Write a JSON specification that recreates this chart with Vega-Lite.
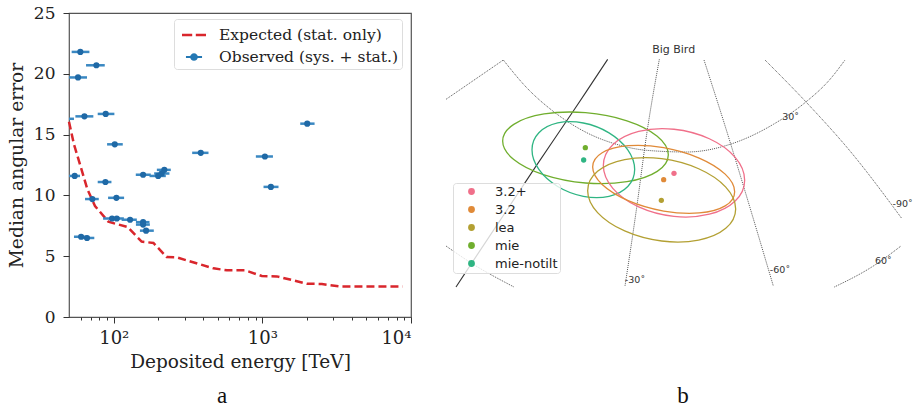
{
"$schema":"https://vega.github.io/schema/vega-lite/v6.json",
"padding":{"left":6,"top":3,"right":0,"bottom":0},
"background":"white",
"spacing":29,
"bounds":"flush",
"resolve":{"scale":{"color":"independent","shape":"independent"},"legend":{"color":"independent","shape":"independent"}},
"config":{"font":"DejaVu Serif"},
"datasets":{
"obs":[
{"e":59.6,"lo":52.1,"hi":68.6,"err":21.8},{"e":76.4,"lo":65.1,"hi":87,"err":20.7},{"e":57.5,"lo":50,"hi":66.1,"err":19.7},{"e":63.5,"lo":55.2,"hi":72.9,"err":16.5},{"e":88.3,"lo":78,"hi":101,"err":16.7},{"e":47,"lo":41,"hi":54,"err":16.3},{"e":101.6,"lo":90.2,"hi":115,"err":14.2},{"e":54.6,"lo":49,"hi":59.3,"err":11.6},{"e":87.9,"lo":78,"hi":96.5,"err":11.1},{"e":71.8,"lo":64.1,"hi":79.3,"err":9.7},{"e":104.2,"lo":91.6,"hi":117.4,"err":9.8},{"e":97.4,"lo":84.8,"hi":110,"err":8.1},{"e":104.8,"lo":94.5,"hi":117,"err":8.1},{"e":128.8,"lo":113,"hi":143,"err":8},{"e":157.6,"lo":141,"hi":174,"err":7.8},{"e":157.6,"lo":141,"hi":175,"err":7.6},{"e":165,"lo":150,"hi":186,"err":7.1},{"e":60.3,"lo":54,"hi":66.5,"err":6.6},{"e":66.1,"lo":60,"hi":74,"err":6.5},{"e":157.6,"lo":140.7,"hi":177.5,"err":11.7},{"e":199,"lo":174,"hi":224,"err":11.6},{"e":210,"lo":187,"hi":237,"err":11.8},{"e":219,"lo":195,"hi":242,"err":12.1},{"e":385,"lo":337,"hi":434,"err":13.5},{"e":1040,"lo":904,"hi":1178,"err":13.2},{"e":1141,"lo":1018,"hi":1284,"err":10.7},{"e":2004,"lo":1798,"hi":2245,"err":15.9}],
"exp":[
{"e":50,"err":16.06},{"e":54,"err":14.2},{"e":59.3,"err":12.55},{"e":66.5,"err":10.5},{"e":74.8,"err":9.13},{"e":92,"err":7.84},{"e":102,"err":7.68},{"e":124,"err":7.4},{"e":154,"err":6.2},{"e":185,"err":6.09},{"e":227,"err":4.93},{"e":266,"err":4.9},{"e":381,"err":4.33},{"e":469,"err":4},{"e":577,"err":3.84},{"e":766,"err":3.84},{"e":992,"err":3.37},{"e":1252,"err":3.34},{"e":1994,"err":2.74},{"e":2516,"err":2.71},{"e":3430,"err":2.5},{"e":8790,"err":2.5}],
"ell":[
{"s":"mie","o":0,"x":685,"y":370.9},{"s":"mie","o":1,"x":651.7,"y":421},{"s":"mie","o":2,"x":560.8,"y":452.1},{"s":"mie","o":3,"x":436.5,"y":456},{"s":"mie","o":4,"x":312.3,"y":431.7},{"s":"mie","o":5,"x":221.3,"y":385.6},{"s":"mie","o":6,"x":188,"y":330.1},{"s":"mie","o":7,"x":221.3,"y":280},{"s":"mie","o":8,"x":312.3,"y":248.9},{"s":"mie","o":9,"x":436.5,"y":245},{"s":"mie","o":10,"x":560.8,"y":269.3},{"s":"mie","o":11,"x":651.7,"y":315.4},
{"s":"mie-notilt","o":0,"x":584,"y":415.6},{"s":"mie-notilt","o":1,"x":563.4,"y":466.6},{"s":"mie-notilt","o":2,"x":507,"y":496.1},{"s":"mie-notilt","o":3,"x":430,"y":496},{"s":"mie-notilt","o":4,"x":353,"y":466.5},{"s":"mie-notilt","o":5,"x":296.6,"y":415.4},{"s":"mie-notilt","o":6,"x":276,"y":356.4},{"s":"mie-notilt","o":7,"x":296.6,"y":305.4},{"s":"mie-notilt","o":8,"x":353,"y":275.9},{"s":"mie-notilt","o":9,"x":430,"y":276},{"s":"mie-notilt","o":10,"x":507,"y":305.5},{"s":"mie-notilt","o":11,"x":563.4,"y":356.6},
{"s":"3.2+","o":0,"x":914,"y":447.4},{"s":"3.2+","o":1,"x":885.6,"y":509.9},{"s":"3.2+","o":2,"x":808,"y":549.7},{"s":"3.2+","o":3,"x":702,"y":556.2},{"s":"3.2+","o":4,"x":596,"y":527.7},{"s":"3.2+","o":5,"x":518.4,"y":471.9},{"s":"3.2+","o":6,"x":490,"y":403.6},{"s":"3.2+","o":7,"x":518.4,"y":341.1},{"s":"3.2+","o":8,"x":596,"y":301.3},{"s":"3.2+","o":9,"x":702,"y":294.8},{"s":"3.2+","o":10,"x":808,"y":323.3},{"s":"3.2+","o":11,"x":885.6,"y":379.1},
{"s":"3.2","o":0,"x":884,"y":481.9},{"s":"3.2","o":1,"x":855.5,"y":524.6},{"s":"3.2","o":2,"x":777.5,"y":545.9},{"s":"3.2","o":3,"x":671,"y":540.1},{"s":"3.2","o":4,"x":564.5,"y":508.9},{"s":"3.2","o":5,"x":486.5,"y":460.6},{"s":"3.2","o":6,"x":458,"y":408.1},{"s":"3.2","o":7,"x":486.5,"y":365.4},{"s":"3.2","o":8,"x":564.5,"y":344.1},{"s":"3.2","o":9,"x":671,"y":349.9},{"s":"3.2","o":10,"x":777.5,"y":381.1},{"s":"3.2","o":11,"x":855.5,"y":429.4},
{"s":"lea","o":0,"x":887,"y":533.8},{"s":"lea","o":1,"x":857.3,"y":591.9},{"s":"lea","o":2,"x":776,"y":627.2},{"s":"lea","o":3,"x":665,"y":630},{"s":"lea","o":4,"x":554,"y":599.8},{"s":"lea","o":5,"x":472.7,"y":544.7},{"s":"lea","o":6,"x":443,"y":479.2},{"s":"lea","o":7,"x":472.7,"y":421.1},{"s":"lea","o":8,"x":554,"y":385.8},{"s":"lea","o":9,"x":665,"y":383},{"s":"lea","o":10,"x":776,"y":413.2},{"s":"lea","o":11,"x":857.3,"y":468.3}],
"centers":[{"s":"3.2+","x":702,"y":427},{"s":"3.2","x":671,"y":446},{"s":"lea","x":664,"y":508},{"s":"mie","x":436,"y":350},{"s":"mie-notilt","x":431,"y":387}],
"grid":[
{"g":"par30","o":0,"x":190,"y":87},{"g":"par30","o":1,"x":260,"y":170},{"g":"par30","o":2,"x":345,"y":245},{"g":"par30","o":3,"x":440,"y":305},{"g":"par30","o":4,"x":530,"y":340},{"g":"par30","o":5,"x":620,"y":358},{"g":"par30","o":6,"x":740,"y":363},{"g":"par30","o":7,"x":870,"y":340},{"g":"par30","o":8,"x":1000,"y":280},{"g":"par30","o":9,"x":1095,"y":215},{"g":"par30","o":10,"x":1170,"y":145},{"g":"par30","o":11,"x":1215,"y":87},
{"g":"tl","o":0,"x":18,"y":205},{"g":"tl","o":1,"x":190,"y":87},
{"g":"m30","o":0,"x":658,"y":85},{"g":"m30","o":1,"x":620,"y":310},{"g":"m30","o":2,"x":590,"y":530},{"g":"m30","o":3,"x":555,"y":765},
{"g":"m60","o":0,"x":792,"y":87},{"g":"m60","o":1,"x":860,"y":300},{"g":"m60","o":2,"x":930,"y":530},{"g":"m60","o":3,"x":1000,"y":765},
{"g":"m90","o":0,"x":975,"y":87},{"g":"m90","o":1,"x":1100,"y":215},{"g":"m90","o":2,"x":1230,"y":360},{"g":"m90","o":3,"x":1385,"y":562},
{"g":"br","o":0,"x":1183,"y":768},{"g":"br","o":1,"x":1300,"y":705},{"g":"br","o":2,"x":1383,"y":645},
{"g":"bl","o":0,"x":18,"y":645},{"g":"bl","o":1,"x":100,"y":700},{"g":"bl","o":2,"x":222,"y":768}],
"plane":[{"o":0,"x":503,"y":85},{"o":1,"x":400,"y":240},{"o":2,"x":285,"y":410},{"o":3,"x":195,"y":546},{"o":4,"x":110,"y":674},{"o":5,"x":48,"y":768}],
"labels":[{"t":"Big Bird","x":701,"y":57,"z":11},{"t":"30˚","x":1052,"y":258,"z":9.5},{"t":"-90˚","x":1388,"y":518,"z":9.5},{"t":"60˚","x":1330,"y":690,"z":9.5},{"t":"-60˚","x":1020,"y":717,"z":9.5},{"t":"-30˚","x":585,"y":748,"z":9.5}]
},
"hconcat":[
{"width":342,"height":304,"view":{"stroke":"#555","strokeWidth":1.2},
"resolve":{"axis":{"x":"independent"}},
"layer":[
{"data":{"name":"exp"},"mark":{"type":"line","color":"#d9262c","strokeWidth":2.5,"strokeDash":[8,4]},
"encoding":{
"x":{"field":"e","type":"quantitative","scale":{"type":"log","domain":[50,10000]},"title":"Deposited energy [TeV]",
"axis":{"orient":"bottom","values":[100,1000,10000],"labelExpr":"datum.value==100?'10²':datum.value==1000?'10³':'10⁴'","grid":false,"domain":false,"tickSize":6,"tickColor":"#333","labelFont":"DejaVu Serif","labelFontSize":18,"labelColor":"#222","labelPadding":6,"titleFont":"DejaVu Serif","titleFontSize":18.5,"titleFontWeight":"normal","titleColor":"#222","titlePadding":5}},
"y":{"field":"err","type":"quantitative","scale":{"domain":[0,25],"nice":false},"title":"Median angular error",
"axis":{"values":[0,5,10,15,20,25],"grid":false,"domain":false,"tickSize":6,"tickColor":"#333","labelFont":"DejaVu Serif","labelFontSize":17,"labelColor":"#222","labelPadding":8,"titleFont":"DejaVu Serif","titleFontSize":18.7,"titleFontWeight":"normal","titleColor":"#222","titlePadding":7}}}},
{"data":{"name":"obs"},"mark":{"type":"rule","color":"#3a88c2","strokeWidth":2.5,"clip":true},
"encoding":{
"x":{"field":"lo","type":"quantitative","scale":{"type":"log","domain":[50,10000]},
"axis":{"orient":"bottom","values":[60,70,80,90,200,300,400,500,600,700,800,900,2000,3000,4000,5000,6000,7000,8000,9000],"labels":false,"grid":false,"domain":false,"tickSize":3,"tickColor":"#333","title":null}},
"x2":{"field":"hi"},
"y":{"field":"err","type":"quantitative"}}},
{"data":{"name":"obs"},"mark":{"type":"circle","color":"#1f69a6","opacity":1,"size":38,"clip":true},
"encoding":{
"x":{"field":"e","type":"quantitative","scale":{"type":"log","domain":[50,10000]},"axis":null},
"y":{"field":"err","type":"quantitative"}}},
{"data":{"values":[{"series":"Expected (stat. only)","e":100,"err":10},{"series":"Observed (sys. + stat.)","e":100,"err":10}]},
"mark":{"type":"point","filled":true,"opacity":0},
"encoding":{
"x":{"field":"e","type":"quantitative","scale":{"type":"log","domain":[50,10000]},"axis":null},
"y":{"field":"err","type":"quantitative"},
"color":{"field":"series","type":"nominal","scale":{"domain":["Expected (stat. only)","Observed (sys. + stat.)"],"range":["#d9262c","#2478b4"]},
"legend":{"title":null,"orient":"none","legendX":105,"legendY":6,"symbolSize":576,"symbolOpacity":1,"symbolOffset":4,"labelFont":"DejaVu Serif","labelFontSize":15.5,"labelColor":"#222","fillColor":"rgba(255,255,255,0.85)","strokeColor":"#ddd","cornerRadius":3,"padding":3,"rowPadding":0,"labelOffset":12,"labelLimit":300}},
"shape":{"field":"series","type":"nominal","scale":{"domain":["Expected (stat. only)","Observed (sys. + stat.)"],"range":["M-1,-0.11H-0.15V0.11H-1Z M0.15,-0.11H1V0.11H0.15Z","M-0.67,-0.09H0.67V0.09H-0.67Z M-0.32,0A0.32,0.32 0 1 1 0.32,0A0.32,0.32 0 1 1 -0.32,0Z"]},
"legend":{"title":null,"orient":"none","legendX":105,"legendY":6,"symbolSize":576,"symbolOpacity":1,"symbolOffset":4,"labelFont":"DejaVu Serif","labelFontSize":15.5,"labelColor":"#222","fillColor":"rgba(255,255,255,0.85)","strokeColor":"#ddd","cornerRadius":3,"padding":3,"rowPadding":0,"labelOffset":12,"labelLimit":300}}}},
{"data":{"values":[{"t":"a","e":536,"err":-6.5}]},"mark":{"type":"text","font":"Liberation Serif","fontSize":23,"color":"#111","clip":false},
"encoding":{
"x":{"field":"e","type":"quantitative","scale":{"type":"log","domain":[50,10000]},"axis":null},
"y":{"field":"err","type":"quantitative"},
"text":{"field":"t"}}}
]},
{"width":476,"height":398,"view":{"stroke":null},
"layer":[
{"data":{"name":"grid"},"mark":{"type":"line","color":"#555","strokeWidth":1,"strokeDash":[1,1],"clip":true,"interpolate":"monotone"},
"encoding":{
"x":{"field":"x","type":"quantitative","scale":{"domain":[0,1428],"nice":false},"axis":null},
"y":{"field":"y","type":"quantitative","scale":{"domain":[-54,1140],"reverse":true,"nice":false},"axis":null},
"detail":{"field":"g"},"order":{"field":"o"}}},
{"data":{"name":"plane"},"mark":{"type":"line","color":"#333","strokeWidth":1.1,"interpolate":"cardinal"},
"encoding":{"x":{"field":"x","type":"quantitative"},"y":{"field":"y","type":"quantitative"},"order":{"field":"o"}}},
{"data":{"name":"centers"},"mark":{"type":"circle","size":28,"opacity":1},
"encoding":{"x":{"field":"x","type":"quantitative"},"y":{"field":"y","type":"quantitative"},
"color":{"field":"s","type":"nominal","scale":{"domain":["3.2+","3.2","lea","mie","mie-notilt"],"range":["#f0708a","#e08a38","#b3a033","#70ae2e","#2fb583"]},
"legend":{"title":null,"orient":"none","legendX":13,"legendY":170,"symbolType":"circle","symbolSize":28,"symbolOpacity":1,"symbolOffset":10,"labelFont":"DejaVu Sans","labelFontSize":13,"labelColor":"#222","fillColor":"rgba(255,255,255,0.8)","strokeColor":"#ddd","cornerRadius":3,"padding":2,"rowPadding":4,"labelOffset":17,"labelLimit":200}}}},
{"data":{"name":"ell"},"mark":{"type":"line","interpolate":"cardinal-closed","strokeWidth":1.3},
"encoding":{"x":{"field":"x","type":"quantitative"},"y":{"field":"y","type":"quantitative"},"order":{"field":"o"},
"color":{"field":"s","type":"nominal","scale":{"domain":["3.2+","3.2","lea","mie","mie-notilt"],"range":["#f0708a","#e08a38","#b3a033","#70ae2e","#2fb583"]},
"legend":{"title":null,"orient":"none","legendX":13,"legendY":170,"symbolType":"circle","symbolSize":28,"symbolOpacity":1,"symbolOffset":10,"labelFont":"DejaVu Sans","labelFontSize":13,"labelColor":"#222","fillColor":"rgba(255,255,255,0.8)","strokeColor":"#ddd","cornerRadius":3,"padding":2,"rowPadding":4,"labelOffset":17,"labelLimit":200}}}},
{"data":{"name":"labels"},"mark":{"type":"text","font":"DejaVu Sans","color":"#333"},
"encoding":{"x":{"field":"x","type":"quantitative"},"y":{"field":"y","type":"quantitative"},"text":{"field":"t"},
"size":{"field":"z","type":"quantitative","scale":null,"legend":null}}},
{"data":{"values":[{"t":"b","x":729,"y":1095}]},"mark":{"type":"text","font":"Liberation Serif","fontSize":23,"color":"#111"},
"encoding":{"x":{"field":"x","type":"quantitative"},"y":{"field":"y","type":"quantitative"},"text":{"field":"t"}}}
]}
]}
